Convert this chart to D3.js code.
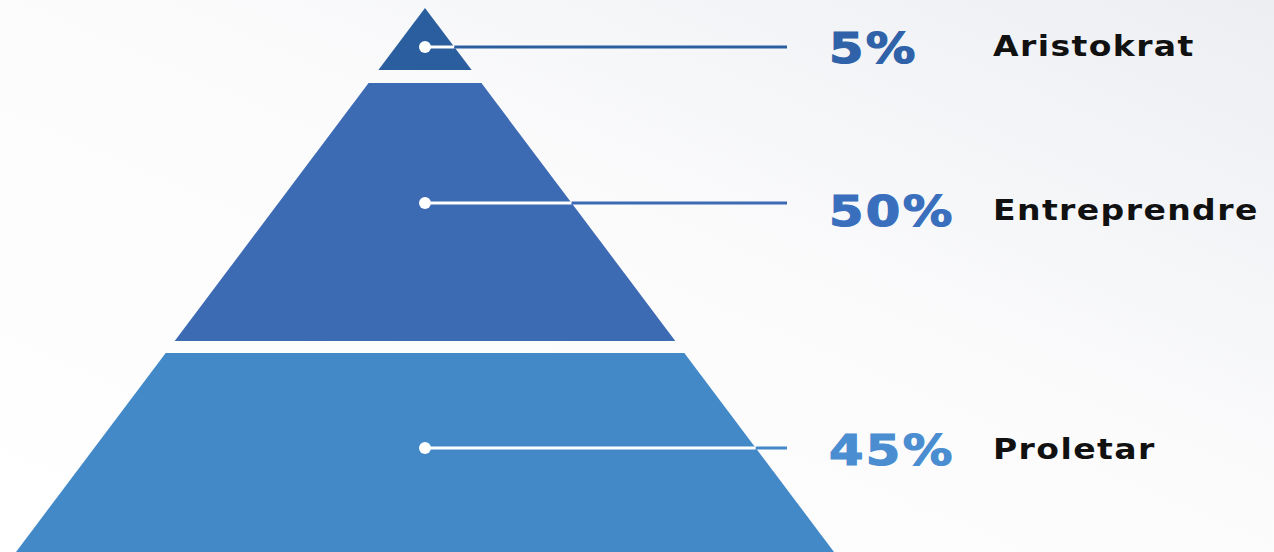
<!DOCTYPE html>
<html>
<head>
<meta charset="utf-8">
<script src="https://cdn.jsdelivr.net/npm/d3@7/dist/d3.min.js"></script>
<style>
    html, body { margin: 0; padding: 0; overflow: hidden; }
    svg { display: block; }
</style>
</head>
<body>
<div id="chart"></div>
<script>
const classes = ["Aristokrat", "Entreprendre", "Proletar"];
const shares = [5, 50, 45];
const layerColors = ["#2b5e9f", "#3c6ab3", "#4389c8"];
const labelColors = ["#2f62a8", "#3a6fbd", "#4a8dd0"];

const width = 1274, height = 552;
const apex = { x: 425, y: 8 };
const base = { y: 552, halfWidth: 409 };
// fraction of the pyramid height where each layer starts / ends
const bands = [[0, 0.114], [0.138, 0.612], [0.634, 1]];
const lineY = [47, 203, 448];
const shareY = [63, 226, 465];
const nameY = [56, 220, 459];
const lineEnd = 787;

const svg = d3.select("#chart").append("svg")
    .attr("width", width)
    .attr("height", height);

const defs = svg.append("defs");
const grad = defs.append("linearGradient")
    .attr("id", "bg")
    .attr("x1", "0%").attr("y1", "100%")
    .attr("x2", "100%").attr("y2", "0%");
grad.append("stop").attr("offset", "0%").attr("stop-color", "#ffffff");
grad.append("stop").attr("offset", "55%").attr("stop-color", "#fbfbfc");
grad.append("stop").attr("offset", "100%").attr("stop-color", "#eceef2");

svg.append("rect")
    .attr("width", width)
    .attr("height", height)
    .attr("fill", "url(#bg)");

const y = d3.scaleLinear().domain([0, 1]).range([apex.y, base.y]);
const half = d3.scaleLinear().domain([apex.y, base.y]).range([0, base.halfWidth]);

const layers = classes.map((name, i) => ({
    name,
    share: shares[i],
    color: layerColors[i],
    labelColor: labelColors[i],
    y0: y(bands[i][0]),
    y1: y(bands[i][1]),
    ly: lineY[i],
    sy: shareY[i],
    ny: nameY[i]
}));

const g = svg.append("g");

g.selectAll("path.layer")
    .data(layers)
    .join("path")
    .attr("class", "layer")
    .attr("fill", d => d.color)
    .attr("d", d => {
        const w0 = half(d.y0), w1 = half(d.y1);
        return d3.line()([
            [apex.x - w0, d.y0], [apex.x + w0, d.y0],
            [apex.x + w1, d.y1], [apex.x - w1, d.y1]
        ]) + "Z";
    });

// connector: white inside the pyramid, layer colour outside
g.selectAll("line.inner")
    .data(layers)
    .join("line")
    .attr("x1", apex.x)
    .attr("x2", d => apex.x + half(d.ly))
    .attr("y1", d => d.ly)
    .attr("y2", d => d.ly)
    .attr("stroke", "#ffffff")
    .attr("stroke-width", 3);

g.selectAll("line.outer")
    .data(layers)
    .join("line")
    .attr("x1", d => apex.x + half(d.ly))
    .attr("x2", lineEnd)
    .attr("y1", d => d.ly)
    .attr("y2", d => d.ly)
    .attr("stroke", d => d.color)
    .attr("stroke-width", 3);

g.selectAll("circle.dot")
    .data(layers)
    .join("circle")
    .attr("cx", apex.x)
    .attr("cy", d => d.ly)
    .attr("r", 6)
    .attr("fill", "#ffffff");

// the original uses a wide geometric face, so stretch DejaVu a bit
g.selectAll("text.share")
    .data(layers)
    .join("text")
    .attr("class", "share")
    .attr("transform", d => `translate(829, ${d.sy}) scale(1.18, 1)`)
    .attr("font-family", "DejaVu Sans, sans-serif")
    .attr("font-weight", 700)
    .attr("font-size", 42)
    .attr("letter-spacing", 2)
    .attr("fill", d => d.labelColor)
    .attr("stroke", d => d.labelColor)
    .attr("stroke-width", 1.2)
    .text(d => `${d.share}%`);

g.selectAll("text.name")
    .data(layers)
    .join("text")
    .attr("class", "name")
    .attr("transform", d => `translate(993, ${d.ny}) scale(1.18, 1)`)
    .attr("font-family", "DejaVu Sans, sans-serif")
    .attr("font-weight", 700)
    .attr("font-size", 28)
    .attr("letter-spacing", 1.2)
    .attr("fill", "#111111")
    .text(d => d.name);
</script>
</body>
</html>
